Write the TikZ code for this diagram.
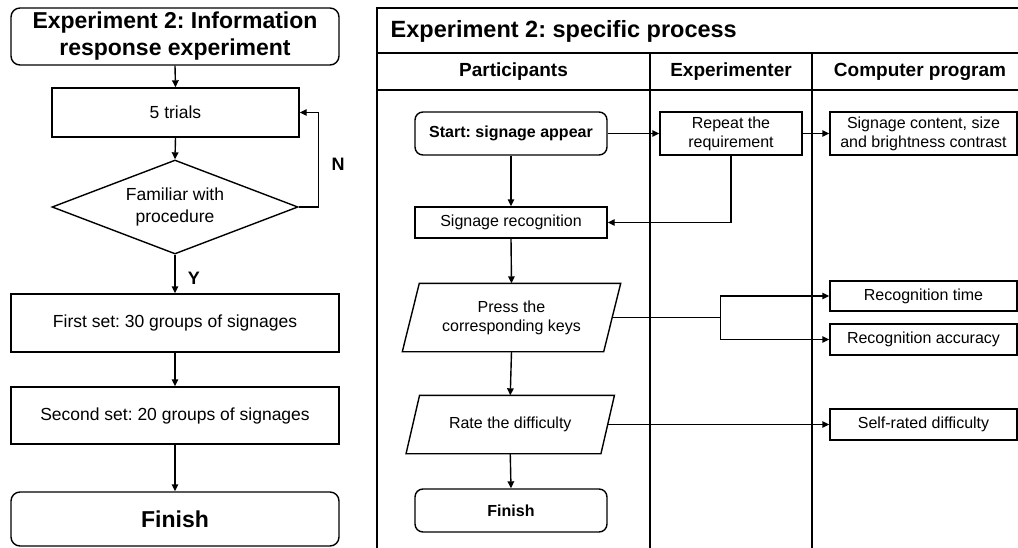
\documentclass[tikz,border=0pt]{standalone}
\usepackage{fontspec}
\setmainfont{Liberation Sans}
\frenchspacing
\usetikzlibrary{shapes.geometric,arrows.meta,calc}
\begin{document}
\begin{tikzpicture}[x=1pt,y=-1pt,
  line width=1.4pt,
  arr/.style={-{Triangle[length=7pt,width=6.5pt]}},
  box/.style={draw,rectangle,inner sep=0pt,align=center,font=\fontsize{17.5}{21.5}\selectfont},
  rbox/.style={box,rounded corners=9pt},
  sbox/.style={draw,rectangle,inner sep=0pt,align=center,font=\fontsize{16}{19}\selectfont},
  srbox/.style={sbox,rounded corners=8pt},
  ptext/.style={rectangle,inner sep=0pt,align=center,font=\fontsize{16}{19}\selectfont},
  hdr/.style={font=\fontsize{19}{22}\selectfont\bfseries,inner sep=0pt},
  lbl/.style={font=\fontsize{18}{21}\selectfont\bfseries,inner sep=0pt}
]
\useasboundingbox (0,0) rectangle (1018,547);
\clip (0,0) rectangle (1018,547);
% ---------------- Left flowchart ----------------
\node[rbox,minimum width=328pt,minimum height=57pt,font=\fontsize{23}{27}\selectfont\bfseries] (t1) at (175,36.5) {Experiment 2: Information\\response experiment};
\node[box,minimum width=247pt,minimum height=49pt] (trials) at (175.5,112.5) {5 trials};
\node[draw,diamond,aspect=2.6,inner sep=0pt,minimum width=246pt,minimum height=94pt,align=center,font=\fontsize{17.5}{21.5}\selectfont] (dia) at (175,207) {Familiar with\\procedure};
\node[box,minimum width=328pt,minimum height=58pt] (first) at (175,323) {First set: 30 groups of signages};
\node[box,minimum width=328pt,minimum height=57pt] (second) at (175,415.5) {Second set: 20 groups of signages};
\node[rbox,minimum width=328pt,minimum height=54pt,font=\fontsize{23}{26}\selectfont\bfseries] (fin) at (175,519) {Finish};
\node[lbl] (nlab) at (338,164) {N};
\node[lbl] (ylab) at (194,278) {Y};
\draw[arr] (t1.south) -- (trials.north);
\draw[arr] (trials.south) -- (dia.north);
\draw[arr] (dia.east) -- ++(20,0) |- (trials.east);
\draw[arr] (dia.south) -- (first.north);
\draw[arr] (first.south) -- (second.north);
\draw[arr] (second.south) -- (fin.north);
% ---------------- Right swimlane ----------------
\draw (1030,8) -- (377,8) -- (377,560);
\draw (377,53) -- (1030,53);
\draw (377,90) -- (1030,90);
\draw (650,53) -- (650,560);
\draw (812,53) -- (812,560);
\node[anchor=west,inner sep=0pt,font=\fontsize{23.5}{27}\selectfont\bfseries] (t2) at (390,31) {Experiment 2: specific process};
\node[hdr] (h1) at (513.5,72) {Participants};
\node[hdr] (h2) at (731,72) {Experimenter};
\node[hdr] (h3) at (920,72) {Computer program};
% nodes
\node[srbox,minimum width=192pt,minimum height=43pt,font=\fontsize{16}{19}\selectfont\bfseries] (start) at (511,133.5) {Start: signage appear};
\node[sbox,minimum width=142pt,minimum height=43pt] (rep) at (731,133.5) {Repeat the\\requirement};
\node[sbox,minimum width=187pt,minimum height=43pt] (cont) at (923.5,133.5) {Signage content, size\\and brightness contrast};
\node[sbox,minimum width=192pt,minimum height=31pt] (recog) at (511,222.5) {Signage recognition};
\node[ptext,minimum width=200pt,minimum height=67pt] (press) at (511.5,317.5) {Press the\\corresponding keys};
\draw ($(press.north west)+(8.5,0)$) -- ($(press.north east)+(8.5,0)$) -- ($(press.south east)+(-8.5,0)$) -- ($(press.south west)+(-8.5,0)$) -- cycle;
\node[ptext,minimum width=193.5pt,minimum height=57pt] (rate) at (510.25,424.5) {Rate the difficulty};
\draw ($(rate.north west)+(6.75,0)$) -- ($(rate.north east)+(6.75,0)$) -- ($(rate.south east)+(-6.75,0)$) -- ($(rate.south west)+(-6.75,0)$) -- cycle;
\node[srbox,minimum width=192pt,minimum height=43pt,font=\fontsize{16}{19}\selectfont\bfseries] (fin2) at (511,510.5) {Finish};
\node[sbox,minimum width=187pt,minimum height=30pt] (rt) at (923.5,296) {Recognition time};
\node[sbox,minimum width=187pt,minimum height=31pt] (ra) at (923.5,339.5) {Recognition accuracy};
\node[sbox,minimum width=187pt,minimum height=31pt] (sd) at (923.5,424.5) {Self-rated difficulty};
% connectors
\draw[arr] (start.east) -- (rep.west);
\draw[arr] (rep.east) -- (cont.west);
\draw[arr] (start.south) -- (recog.north);
\draw[arr] (rep.south) |- (recog.east);
\draw[arr] (recog.south) -- (press.north);
\draw[arr] (press.east) -- ++(108.5,0) |- (rt.west);
\draw[arr] (press.east) -- ++(108.5,0) |- (ra.west);
\draw[arr] (press.south) -- (rate.north);
\draw[arr] (rate.east) -- (sd.west);
\draw[arr] (rate.south) -- (fin2.north);
\end{tikzpicture}
\end{document}
